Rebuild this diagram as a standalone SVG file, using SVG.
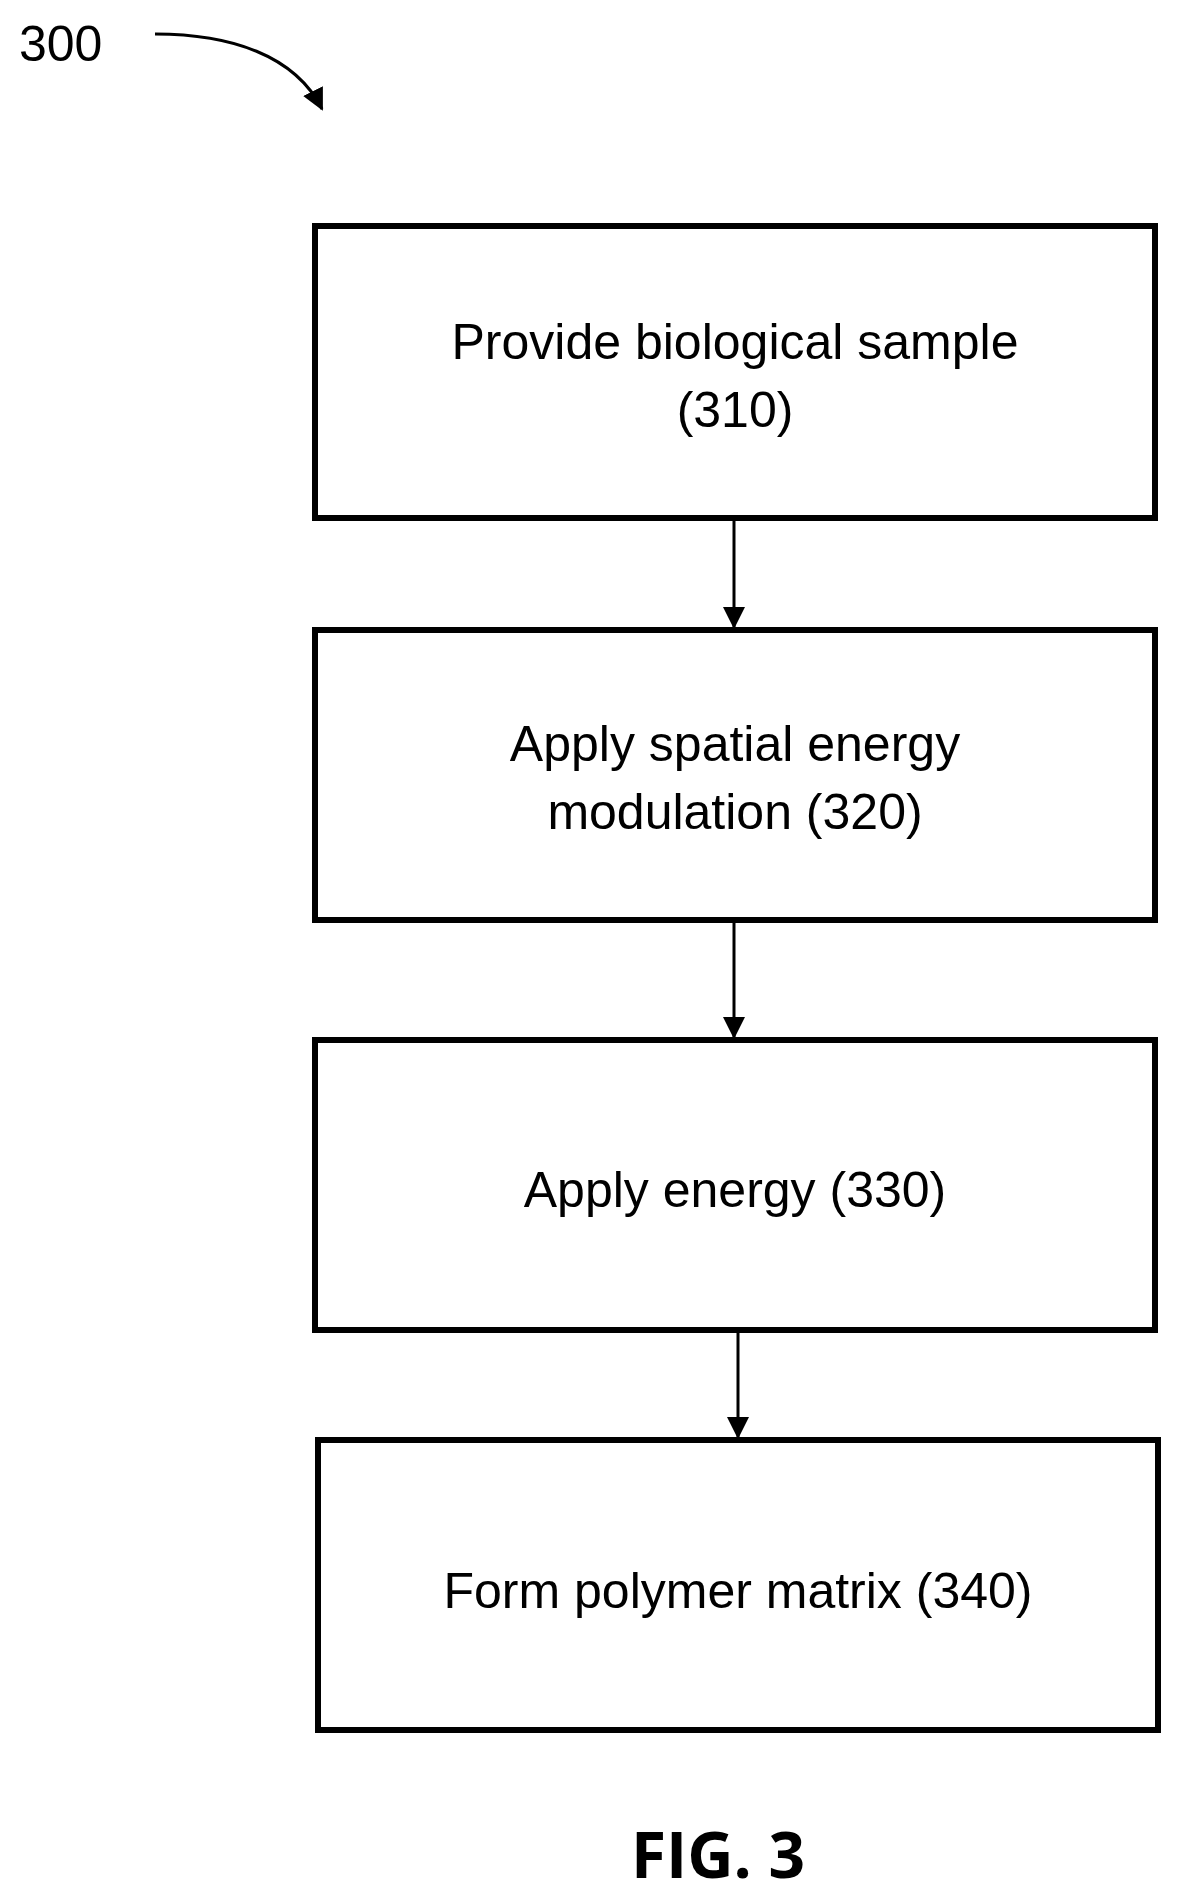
<svg xmlns="http://www.w3.org/2000/svg" width="1177" height="1896" viewBox="0 0 1177 1896">
<style>
.box{fill:#fff;stroke:#000;stroke-width:6}
.t{font-family:"Liberation Sans",Arial,sans-serif;font-size:50px;text-anchor:middle;fill:#000}
.c{stroke:#000;stroke-width:3;fill:none}
</style>
<defs><marker id="ah" markerWidth="10" markerHeight="10" refX="9" refY="5" orient="auto" markerUnits="userSpaceOnUse" viewBox="0 0 10 10"><path d="M0,0L10,5L0,10z" fill="#000"/></marker>
<marker id="ah2" markerWidth="22" markerHeight="22" refX="20" refY="11" orient="auto" markerUnits="userSpaceOnUse" viewBox="0 0 22 22"><path d="M0,0L22,11L0,22z" fill="#000"/></marker></defs>
<rect width="1177" height="1896" fill="#fff"/>
<text x="19" y="61" class="t" style="text-anchor:start">300</text>
<g id="connectors">
<path class="c" d="M155,34 C230,34 295,55 322,109" marker-end="url(#ah2)"/>
<line class="c" x1="734" y1="521" x2="734" y2="627" marker-end="url(#ah2)"/>
<line class="c" x1="734" y1="923" x2="734" y2="1037" marker-end="url(#ah2)"/>
<line class="c" x1="738" y1="1320" x2="738" y2="1437" marker-end="url(#ah2)"/>
</g>
<g id="n310"><rect class="box" x="315" y="226" width="840" height="292"/><text class="t" x="735" y="359">Provide biological sample</text><text class="t" x="735" y="427">(310)</text></g>
<g id="n320"><rect class="box" x="315" y="630" width="840" height="290"/><text class="t" x="735" y="761">Apply spatial energy</text><text class="t" x="735" y="829">modulation (320)</text></g>
<g id="n330"><rect class="box" x="315" y="1040" width="840" height="290"/><text class="t" x="735" y="1207">Apply energy (330)</text></g>
<g id="n340"><rect class="box" x="318" y="1440" width="840" height="290"/><text class="t" x="738" y="1608">Form polymer matrix (340)</text></g>
<text x="718" y="1878" style="font-family:'Open Sans','DejaVu Sans',sans-serif;font-weight:bold;font-size:64px;text-anchor:middle">FIG. 3</text>
</svg>
